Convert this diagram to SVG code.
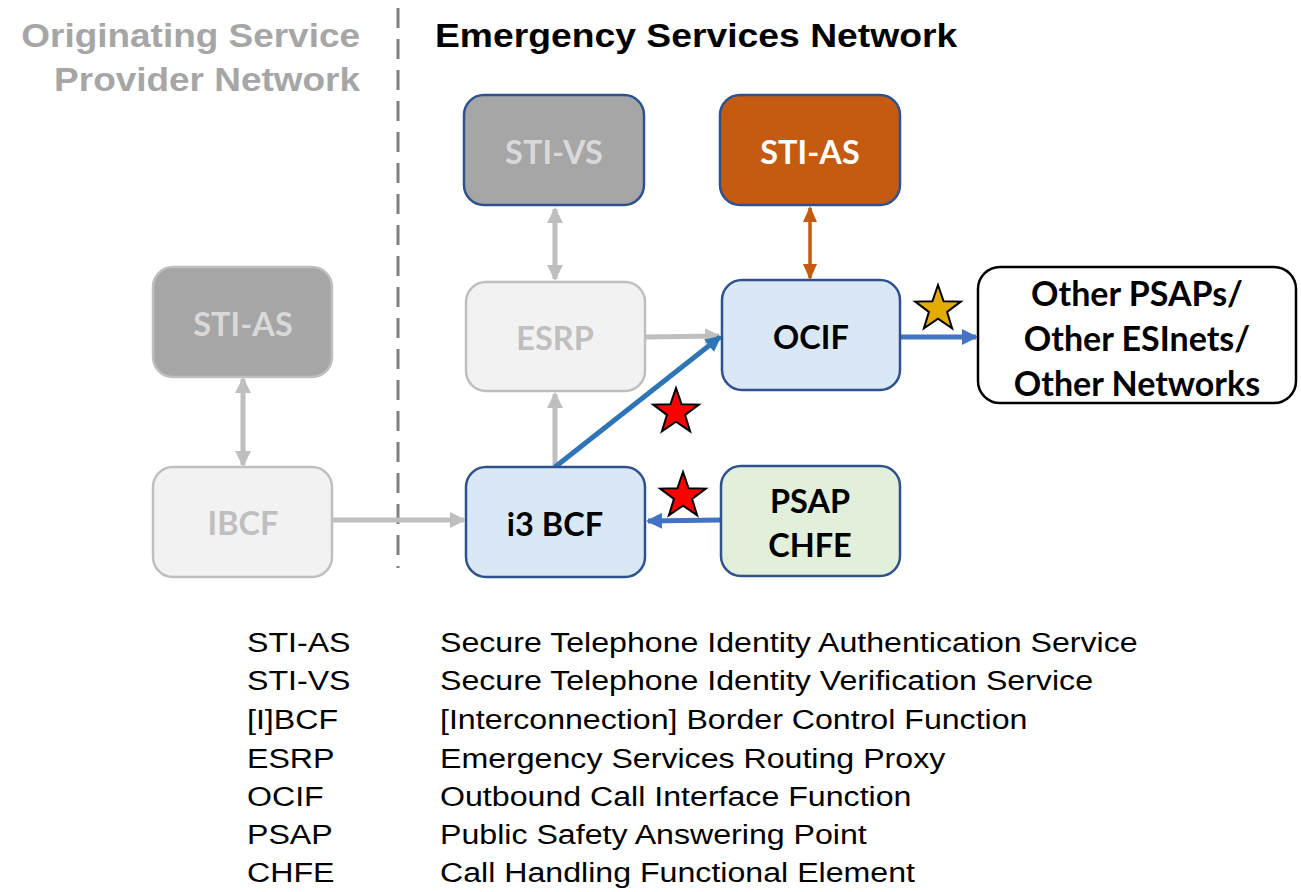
<svg xmlns="http://www.w3.org/2000/svg" width="1301" height="892" viewBox="0 0 1301 892">
<style>
.title{font-family:"Liberation Sans",Arial,sans-serif;font-weight:bold;font-size:33px}
.nt{font-family:Lato,"Liberation Sans",sans-serif;font-weight:bold;font-size:32.5px;text-anchor:middle;dominant-baseline:central}
.ot{font-size:34px}
.lg{font-family:"Liberation Sans",Arial,sans-serif;font-size:28px;fill:#000}
.box{stroke-width:2.5}
.grey{stroke:#bfbfbf;stroke-width:5;fill:none}
.blue{stroke:#4472c4;stroke-width:5;fill:none}
.star{stroke:#000;stroke-width:2}
</style>
<defs>
<marker id="ag" markerUnits="userSpaceOnUse" markerWidth="18" markerHeight="18" refX="14" refY="9" orient="auto-start-reverse" viewBox="0 0 18 18"><path d="M0,1 L16,9 L0,17 Z" fill="#bfbfbf"/></marker>
<marker id="ab" markerUnits="userSpaceOnUse" markerWidth="18" markerHeight="18" refX="14" refY="9" orient="auto-start-reverse" viewBox="0 0 18 18"><path d="M0,1 L16,9 L0,17 Z" fill="#4472c4"/></marker>
<marker id="ab2" markerUnits="userSpaceOnUse" markerWidth="18" markerHeight="18" refX="14" refY="9" orient="auto-start-reverse" viewBox="0 0 18 18"><path d="M0,1 L16,9 L0,17 Z" fill="#2e75b6"/></marker>
<marker id="ao" markerUnits="userSpaceOnUse" markerWidth="18" markerHeight="18" refX="14" refY="8" orient="auto-start-reverse" viewBox="0 0 18 18"><path d="M0,1 L16,8 L0,15 Z" fill="#c55a11"/></marker>
<path id="starshape" d="M0,-24 L5.6,-7.7 L22.8,-7.4 L9.1,3 L14.1,19.4 L0,9.6 L-14.1,19.4 L-9.1,3 L-22.8,-7.4 L-5.6,-7.7 Z"/>
</defs>
<rect width="1301" height="892" fill="#fff"/>

<line x1="398" y1="8" x2="398" y2="568" stroke="#808080" stroke-width="3" stroke-dasharray="20 11"/>
<g transform="translate(360,0) scale(1.12,1)">
<text class="title" x="0" y="47" text-anchor="end" fill="#a6a6a6">Originating Service</text>
<text class="title" x="0" y="91" text-anchor="end" fill="#a6a6a6">Provider Network</text>
</g>
<g transform="translate(435,0) scale(1.13,1)">
<text class="title" x="0" y="47" fill="#000">Emergency Services Network</text>
</g>

<g id="connectors">
<line class="grey" x1="555" y1="209" x2="555" y2="279" marker-start="url(#ag)" marker-end="url(#ag)"/>
<line x1="810" y1="208" x2="810" y2="278" stroke="#c55a11" stroke-width="3.5" marker-start="url(#ao)" marker-end="url(#ao)"/>
<line class="grey" x1="243" y1="379" x2="243" y2="465" marker-start="url(#ag)" marker-end="url(#ag)"/>
<line class="grey" x1="646" y1="337" x2="719" y2="336" marker-end="url(#ag)"/>
<line class="grey" x1="555" y1="466" x2="555" y2="394" marker-end="url(#ag)"/>
<line class="grey" x1="333" y1="520" x2="464" y2="520" marker-end="url(#ag)"/>
<line x1="555" y1="467" x2="720" y2="337" stroke="#2e75b6" stroke-width="5" marker-end="url(#ab2)"/>
<line class="blue" x1="720" y1="520" x2="648" y2="521" marker-end="url(#ab)"/>
<line class="blue" x1="901" y1="337" x2="976" y2="337" marker-end="url(#ab)"/>
</g>

<g id="sti-vs"><rect class="box" x="464" y="95" width="180" height="110" rx="20" fill="#a6a6a6" stroke="#2f528f"/><text class="nt" x="554" y="151" fill="#d9d9d9">STI-VS</text></g>
<g id="sti-as"><rect class="box" x="720" y="95" width="180" height="110" rx="20" fill="#c55a11" stroke="#2f528f"/><text class="nt" x="810" y="151" fill="#fff">STI-AS</text></g>
<g id="esrp"><rect class="box" x="466" y="282" width="179" height="109" rx="20" fill="#f2f2f2" stroke="#bfbfbf"/><text class="nt" x="555" y="337" fill="#bfbfbf">ESRP</text></g>
<g id="ocif"><rect class="box" x="722" y="280" width="178" height="110" rx="20" fill="#dae8f5" stroke="#2f528f"/><text class="nt" x="811" y="336" fill="#000">OCIF</text></g>
<g id="other"><rect x="978" y="267" width="318" height="136" rx="22" fill="#fff" stroke="#000" stroke-width="2.5"/>
<text class="nt ot" x="1137" y="292" fill="#000">Other PSAPs/</text>
<text class="nt ot" x="1137" y="337" fill="#000">Other ESInets/</text>
<text class="nt ot" x="1137" y="382" fill="#000">Other Networks</text></g>
<g id="i3bcf"><rect class="box" x="466" y="467" width="179" height="110" rx="20" fill="#dae8f5" stroke="#2f528f"/><text class="nt" x="555" y="523" fill="#000">i3 BCF</text></g>
<g id="psap"><rect class="box" x="721" y="466" width="179" height="110" rx="20" fill="#e2efda" stroke="#2f528f"/><text class="nt" x="810" y="500" fill="#000">PSAP</text><text class="nt" x="810" y="544" fill="#000">CHFE</text></g>
<g id="sti-as-left"><rect class="box" x="153" y="267" width="179" height="110" rx="20" fill="#a6a6a6" stroke="#bfbfbf"/><text class="nt" x="243" y="323" fill="#d9d9d9">STI-AS</text></g>
<g id="ibcf"><rect class="box" x="153" y="467" width="179" height="110" rx="20" fill="#f2f2f2" stroke="#bfbfbf"/><text class="nt" x="243" y="522" fill="#bfbfbf">IBCF</text></g>

<g id="stars">
<use href="#starshape" x="676" y="412" fill="#ff0000" class="star"/>
<use href="#starshape" x="683" y="496" fill="#ff0000" class="star"/>
<use href="#starshape" x="938" y="309" fill="#e2ac00" class="star"/>
</g>

<g id="legend">
<g transform="translate(247,0) scale(1.148,1)">
<text class="lg" x="0" y="652">STI-AS</text>
<text class="lg" x="0" y="690">STI-VS</text>
<text class="lg" x="0" y="729">[I]BCF</text>
<text class="lg" x="0" y="768">ESRP</text>
<text class="lg" x="0" y="806">OCIF</text>
<text class="lg" x="0" y="844">PSAP</text>
<text class="lg" x="0" y="882">CHFE</text>
</g>
<g transform="translate(440,0) scale(1.148,1)">
<text class="lg" x="0" y="652">Secure Telephone Identity Authentication Service</text>
<text class="lg" x="0" y="690">Secure Telephone Identity Verification Service</text>
<text class="lg" x="0" y="729">[Interconnection] Border Control Function</text>
<text class="lg" x="0" y="768">Emergency Services Routing Proxy</text>
<text class="lg" x="0" y="806">Outbound Call Interface Function</text>
<text class="lg" x="0" y="844">Public Safety Answering Point</text>
<text class="lg" x="0" y="882">Call Handling Functional Element</text>
</g>
</g>
</svg>
